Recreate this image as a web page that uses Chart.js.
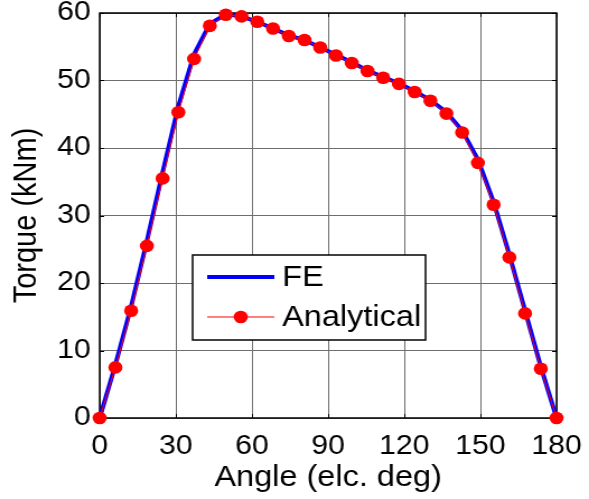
<!DOCTYPE html>
<html>
<head>
<meta charset="utf-8">
<script src="https://cdn.jsdelivr.net/npm/chart.js@4.4.1/dist/chart.umd.min.js"></script>
<style>
    html, body { margin: 0; padding: 0; background: #fff; overflow: hidden; }
    /* the reference picture is stretched sideways, so the chart is too */
    #wrap { width: 526px; height: 499px; transform: scaleX(1.1198); transform-origin: 0 0; }
</style>
</head>
<body>
<div id="wrap"><canvas id="torqueChart" width="526" height="499"></canvas></div>
<script>
const angles = [0, 6.2, 12.4, 18.6, 24.8, 31.0, 37.2, 43.4, 49.7, 55.9, 62.1, 68.3, 74.5, 80.7, 86.9,
    93.1, 99.3, 105.5, 111.7, 117.9, 124.1, 130.3, 136.6, 142.8, 149.0, 155.2, 161.4, 167.6, 173.8, 180];
const feTorque = [0, 7.9, 16.5, 26.2, 36.4, 46.2, 53.9, 58.4, 59.8, 59.5, 58.7, 57.7, 56.7, 56.0, 54.9,
    53.8, 52.7, 51.5, 50.5, 49.6, 48.4, 47.1, 45.3, 42.6, 38.3, 32.0, 24.2, 15.9, 7.6, 0];
const analyticalTorque = [0, 7.5, 15.9, 25.5, 35.5, 45.3, 53.2, 58.1, 59.75, 59.5, 58.7, 57.7, 56.6, 56.0, 54.9,
    53.7, 52.6, 51.4, 50.4, 49.5, 48.3, 47.0, 45.1, 42.3, 37.8, 31.6, 23.8, 15.5, 7.3, 0];
const xTicks = [0, 30, 60, 90, 120, 150, 180];
const yTicks = [0, 10, 20, 30, 40, 50, 60];

const FONT = "'Liberation Sans', Arial, sans-serif";

function toPoints(xs, ys) {
    return xs.map((x, i) => ({ x: x, y: ys[i] }));
}

// box round the axes with small inward ticks, like matlab
const axesBox = {
    id: 'axesBox',
    beforeDatasetsDraw(chart) {
        const { ctx, chartArea: a, scales } = chart;
        ctx.save();
        ctx.strokeStyle = '#000';
        ctx.lineWidth = 1;
        ctx.beginPath();
        xTicks.forEach(v => {
            const px = Math.round(scales.x.getPixelForValue(v)) + 0.5;
            ctx.moveTo(px, a.bottom); ctx.lineTo(px, a.bottom - 4);
            ctx.moveTo(px, a.top); ctx.lineTo(px, a.top + 4);
        });
        yTicks.forEach(v => {
            const py = Math.round(scales.y.getPixelForValue(v)) + 0.5;
            ctx.moveTo(a.left, py); ctx.lineTo(a.left + 4, py);
            ctx.moveTo(a.right, py); ctx.lineTo(a.right - 4, py);
        });
        ctx.stroke();
        ctx.lineWidth = 1.5;
        ctx.strokeRect(a.left, a.top, a.right - a.left, a.bottom - a.top);
        ctx.restore();
    }
};

// legend box sitting inside the plot
const insideLegend = {
    id: 'insideLegend',
    afterDraw(chart) {
        const { ctx } = chart;
        const box = { left: 172, top: 255, right: 380, bottom: 340 };
        ctx.save();
        ctx.fillStyle = '#fff';
        ctx.fillRect(box.left, box.top, box.right - box.left, box.bottom - box.top);
        ctx.strokeStyle = '#000';
        ctx.lineWidth = 1.5;
        ctx.strokeRect(box.left, box.top, box.right - box.left, box.bottom - box.top);

        const rows = [277, 317];
        chart.data.datasets.forEach((ds, i) => {
            const y = rows[i];
            ctx.strokeStyle = ds.borderColor;
            ctx.lineWidth = ds.borderWidth;
            ctx.beginPath();
            ctx.moveTo(185, y);
            ctx.lineTo(245, y);
            ctx.stroke();
            if (ds.pointRadius > 0) {
                ctx.fillStyle = ds.pointBackgroundColor;
                ctx.beginPath();
                ctx.arc(215, y, ds.pointRadius, 0, Math.PI * 2);
                ctx.fill();
            }
            ctx.fillStyle = '#000';
            ctx.font = '29px ' + FONT;
            ctx.textBaseline = 'middle';
            ctx.textAlign = 'left';
            ctx.fillText(ds.label, 252, y + 1);
        });
        ctx.restore();
    }
};

const ctx = document.getElementById('torqueChart').getContext('2d');
const torqueChart = new Chart(ctx, {
    type: 'line',
    data: {
        datasets: [{
            label: 'FE',
            data: toPoints(angles, feTorque),
            borderColor: '#0000ff',
            borderWidth: 4,
            pointRadius: 0,
            fill: false,
            order: 2
        }, {
            label: 'Analytical',
            data: toPoints(angles, analyticalTorque),
            borderColor: '#ff0000',
            borderWidth: 1,
            pointRadius: 6.3,
            pointBorderWidth: 0,
            pointBackgroundColor: '#ff0000',
            pointHoverRadius: 6.3,
            fill: false,
            order: 1
        }]
    },
    options: {
        responsive: false,
        devicePixelRatio: 1,
        animation: false,
        clip: false,
        layout: { padding: { top: 13, right: 29, left: 0, bottom: 0 } },
        plugins: {
            legend: { display: false },
            tooltip: { enabled: false }
        },
        scales: {
            x: {
                type: 'linear',
                min: 0,
                max: 180,
                afterBuildTicks: scale => { scale.ticks = xTicks.map(v => ({ value: v })); },
                afterFit: scale => {
                    scale.height = 81;
                    scale.paddingLeft = 0;
                    scale.paddingRight = 0;
                },
                grid: { color: '#6e6e6e', borderDash: [1, 1], drawTicks: false },
                border: { display: false },
                ticks: {
                    color: '#000',
                    padding: 12,
                    maxRotation: 0,
                    font: { family: FONT, size: 27 }
                },
                title: {
                    display: true,
                    text: 'Angle (elc. deg)',
                    color: '#000',
                    padding: { top: 0, bottom: 4 },
                    font: { family: FONT, size: 29 }
                }
            },
            y: {
                min: 0,
                max: 60,
                afterBuildTicks: scale => { scale.ticks = yTicks.map(v => ({ value: v })); },
                afterFit: scale => {
                    scale.width = 89;
                    scale.paddingTop = 0;
                    scale.paddingBottom = 0;
                },
                grid: { color: '#6e6e6e', borderDash: [1, 1], drawTicks: false },
                border: { display: false },
                ticks: {
                    color: '#000',
                    padding: 8,
                    font: { family: FONT, size: 27 }
                },
                title: {
                    display: true,
                    text: 'Torque (kNm)',
                    color: '#000',
                    padding: { top: 7, bottom: 0 },
                    font: { family: FONT, size: 29 }
                }
            }
        }
    },
    plugins: [axesBox, insideLegend]
});
</script>
</body>
</html>
